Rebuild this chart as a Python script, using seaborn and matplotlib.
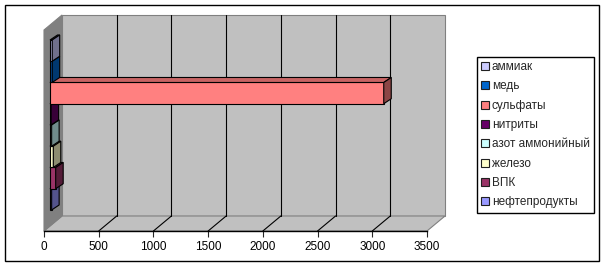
import matplotlib
matplotlib.use("Agg")
import matplotlib.pyplot as plt
import matplotlib.transforms as mtransforms
from matplotlib.patches import Polygon, Rectangle
import seaborn as sns
import numpy as np

# ---- data ----
names = ['аммиак', 'медь', 'сульфаты', 'нитриты', 'азот аммонийный',
         'железо', 'ВПК', 'нефтепродукты']
values = [20, 20, 3050, 10, 15, 30, 52, 15]
colors = ['#CCCCFF', '#0066CC', '#FF8080', '#660066', '#CCFFFF',
          '#FFFFCC', '#993366', '#9999FF']
xticks = [0, 500, 1000, 1500, 2000, 2500, 3000, 3500]
xmax = 3500

sns.set_style("white")
plt.rcParams['font.family'] = ['Liberation Sans', 'DejaVu Sans']

W, H, DPI = 606, 267, 100
fig = plt.figure(figsize=(W / DPI, H / DPI), dpi=DPI)
fig.patch.set_facecolor('white')

# background axes in pixel coordinates (walls, border)
bg = fig.add_axes([0, 0, 1, 1], zorder=0)
bg.set_xlim(0, W)
bg.set_ylim(H, 0)
bg.axis('off')

# geometry of the 3D box (pixels)
fx0, fx1, fy_top, fy_bot = 44, 427, 30, 231   # front plane
ddx, ddy = 18, -15                              # depth offset
bx0, bx1, by_top, by_bot = fx0 + ddx, fx1 + ddx, fy_top + ddy, fy_bot + ddy

# outer border
bg.add_patch(Rectangle((5, 5), 594, 256, fill=False, edgecolor='black', lw=1))
# back wall
bg.add_patch(Polygon([(bx0, by_top), (bx1, by_top), (bx1, by_bot), (bx0, by_bot)],
                     closed=True, facecolor='#C0C0C0', edgecolor='#808080', lw=0.8))
# floor
bg.add_patch(Polygon([(fx0, fy_bot), (fx1, fy_bot), (bx1, by_bot), (bx0, by_bot)],
                     closed=True, facecolor='#C0C0C0', edgecolor='#808080', lw=0.8))
# left side wall
bg.add_patch(Polygon([(fx0, fy_top), (bx0, by_top), (bx0, by_bot), (fx0, fy_bot)],
                     closed=True, facecolor='#808080', edgecolor='#808080', lw=0.8))
# grid lines on back wall and floor
scale = (fx1 - fx0) / xmax
for v in xticks[1:-1]:
    xb = bx0 + v * scale
    bg.plot([xb, xb], [by_top, by_bot], color='black', lw=0.8)
    xf = fx0 + v * scale
    bg.plot([xf, xb], [fy_bot, by_bot], color='black', lw=0.8)

# main axes = front plane
ax = fig.add_axes([fx0 / W, 1 - fy_bot / H, (fx1 - fx0) / W, (fy_bot - fy_top) / H], zorder=2)
ax.set_facecolor('none')

sns.barplot(x=values, y=names, hue=names, order=names, hue_order=names,
            palette=colors, width=1.0, saturation=1, edgecolor='black',
            linewidth=0.8, legend=False, ax=ax)

ax.set_xlim(0, xmax)
ax.set_ylim(8.254, -1.205)
ax.set_xticks(xticks)
ax.set_xticklabels([str(t) for t in xticks], fontsize=8.5, color='black')
ax.set_yticks([])
ax.set_xlabel('')
ax.set_ylabel('')
for s in ['left', 'top', 'right']:
    ax.spines[s].set_visible(False)
ax.spines['bottom'].set_color('black')
ax.spines['bottom'].set_linewidth(1)
ax.tick_params(axis='x', direction='out', length=4, width=0.8, pad=3, bottom=True)
ax.grid(False)

# bars sit a bit behind the front plane
bar_off = mtransforms.ScaledTranslation(6 / DPI, 5 / DPI, fig.dpi_scale_trans)
trans = ax.transData + bar_off
bdx, bdy = 7.5, 5.0   # bar depth in pixels (display, y up)


def shade(hexc, f):
    c = np.array(matplotlib.colors.to_rgb(hexc)) * f
    return tuple(np.clip(c, 0, 1))


ident = mtransforms.IdentityTransform()
for p in list(ax.patches):
    yc = p.get_y() + p.get_height() / 2
    i = int(round(yc))
    col = colors[i]
    base = 10 + (len(names) - 1 - i) * 3
    p.set_transform(trans)
    p.set_zorder(base)
    p.set_clip_on(False)
    x0, x1 = p.get_x(), p.get_x() + p.get_width()
    y0, y1 = p.get_y(), p.get_y() + p.get_height()
    pts = trans.transform([[x0, y0], [x1, y1]])
    xl, xr = pts[:, 0].min(), pts[:, 0].max()
    yb, yt = pts[:, 1].min(), pts[:, 1].max()
    top = Polygon([(xl, yt), (xr, yt), (xr + bdx, yt + bdy), (xl + bdx, yt + bdy)],
                  closed=True, facecolor=shade(col, 0.78), edgecolor='black',
                  lw=0.8, transform=ident, zorder=base + 1, clip_on=False)
    side = Polygon([(xr, yb), (xr, yt), (xr + bdx, yt + bdy), (xr + bdx, yb + bdy)],
                   closed=True, facecolor=shade(col, 0.55), edgecolor='black',
                   lw=0.8, transform=ident, zorder=base + 2, clip_on=False)
    ax.add_artist(top)
    ax.add_artist(side)

# legend
handles = [Rectangle((0, 0), 1, 1, facecolor=c, edgecolor='#202020', lw=0.8) for c in colors]
leg = fig.legend(handles, names, loc='upper left',
                 bbox_to_anchor=(477 / W, 1 - 57 / H), bbox_transform=fig.transFigure,
                 fontsize=8.5, frameon=True, fancybox=False, shadow=False,
                 borderpad=0.35, labelspacing=0.62, handlelength=0.65,
                 handleheight=0.65, handletextpad=0.25, borderaxespad=0)
leg.get_frame().set_edgecolor('black')
leg.get_frame().set_linewidth(1)
leg.get_frame().set_facecolor('white')
leg.get_frame().set_alpha(1)

fig.savefig('out.png', dpi=DPI)
